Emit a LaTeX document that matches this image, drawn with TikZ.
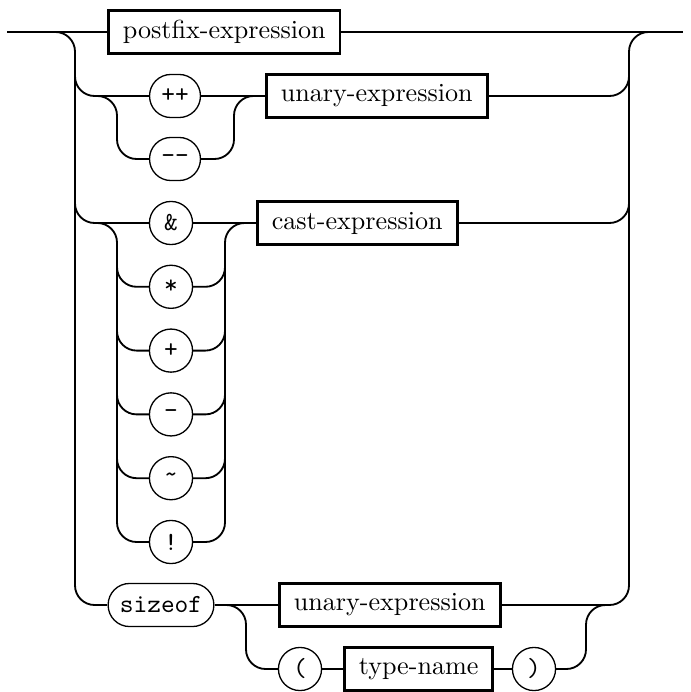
\documentclass[tikz,border=0pt]{standalone}

\tikzset{
    nonterm/.style={draw, line width=1.1pt, inner xsep=5.5pt, inner ysep=0pt,
        minimum height=16.5pt, anchor=west},
    term/.style={draw, line width=0.5pt, rounded corners=8.2pt, font=\ttfamily,
        inner xsep=4.5pt, inner ysep=0pt, minimum height=16.5pt, minimum width=16.5pt},
    track/.style={line width=1.1pt},
    rail/.style={line width=0.7pt, rounded corners=7.5pt},
}

\begin{document}
\begin{tikzpicture}[x=0.383pt, y=-0.383pt]
    \useasboundingbox (0,0) rectangle (690,692);

    \node[nonterm] (postfix) at (107,32) {postfix-expression};
    \node[term] (inc) at (175,96) {++};
    \node[term] (dec) at (175,159) {-{}-};
    \node[nonterm] (unary) at (265,96) {unary-expression};
    \node[nonterm] (cast) at (256,223) {cast-expression};
    \node[term] (sizeof) at (161,605) {sizeof};
    \node[nonterm] (unarytwo) at (278,605) {unary-expression};
    \node[term] (lpar) at (300,669) {(};
    \node[nonterm] (typename) at (343,669) {type-name};
    \node[term] (rpar) at (534,669) {)};

    \foreach \sym/\nm [count=\i from 0] in {\&/amp, */star, +/plus, -/minus, {\char126}/tilde, !/bang}
        \node[term] (\nm) at (171,{223+63.8*\i}) {\sym};

    \coordinate (start) at (7,32);
    \coordinate (stop) at (683,32);

    % main line and the two outer rails
    \draw[track] (start) -- (postfix) -- (stop);
    \draw[rail] (55,32) -| (75,605) -- (97,605);
    \draw[rail] (652,32) -| (629,605) -- (608,605);

    % ++ / --
    \draw[rail] (75,76) |- (97,96);
    \draw[track] (97,96) -- (inc) -- (unary) -- (609,96);
    \draw[rail] (609,96) -| (629,76);
    \draw[rail] (97,96) -| (117,159) -- (dec);
    \draw[rail] (dec) -| (234,96) -- (254,96);

    % unary operators
    \draw[rail] (75,203) |- (97,223);
    \draw[track] (97,223) -- (amp) -- (cast) -- (609,223);
    \draw[rail] (609,223) -| (629,203);
    \draw[rail] (97,223) -| (117,542) -- (bang);
    \draw[rail] (bang) -| (225,223) -- (245,223);
    \foreach \nm [count=\i] in {star,plus,minus,tilde} {
        \pgfmathsetmacro\yy{223+63.8*\i}
        \draw[rail] (117,\yy-20) |- (\nm);
        \draw[rail] (\nm) -| (225,\yy-20);
    }

    % sizeof
    \draw[track] (97,605) -- (sizeof) -- (unarytwo) -- (608,605);
    \draw[rail] (226,605) -| (246,669) -- (lpar);
    \draw[track] (lpar) -- (typename) -- (rpar);
    \draw[rail] (rpar) -| (586,605) -- (606,605);

\end{tikzpicture}
\end{document}
